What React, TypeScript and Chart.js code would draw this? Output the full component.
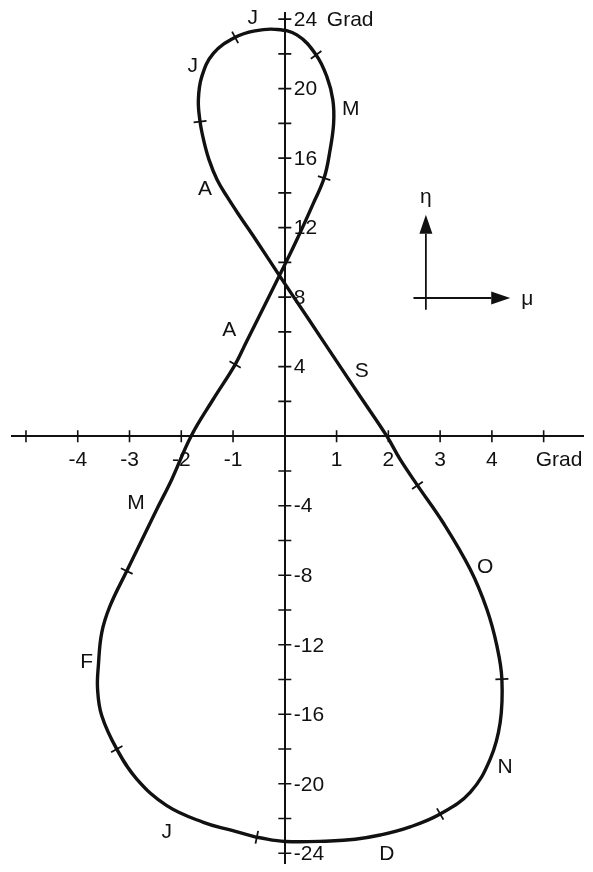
import React, { useEffect, useRef } from 'react';
import { Chart, registerables } from 'chart.js';

Chart.register(...registerables);

// Analemma: mu = east-west offset (Grad), eta = declination (Grad), traced from 1 January onward.
const analemmaMu = [
  -0.541, -1.057, -1.573, -2.28, -2.86, -3.246, -3.536, -3.617, -3.602, -3.536,
  -3.376, -3.053, -2.473, -2.184, -1.811, -1.386, -0.96, -0.748, -0.526, -0.104,
  0.232, 0.553, 0.759, 0.875, 0.943, 0.928, 0.812, 0.605, 0.232, -0.187,
  -0.574, -0.96, -1.38, -1.604, -1.67, -1.637, -1.569, -1.463, -1.308, -1.115,
  -0.902, -0.535, -0.104, 0.464, 0.941, 1.457, 1.971, 2.228, 2.562, 3.059,
  3.581, 3.903, 4.097, 4.193, 4.16, 3.967, 3.581, 3.001, 2.421, 1.842,
  1.358, 0.875, 0.006,
];
const analemmaEta = [
  -23.08, -22.66, -22.22, -21.26, -19.73, -18.01, -16.09, -14.56, -13.22, -11.3,
  -9.77, -7.76, -4.21, -2.49, 0, 2.11, 4.12, 5.39, 6.71, 9.24,
  11.3, 13.41, 14.85, 16.48, 18.01, 19.35, 20.69, 21.94, 23.09, 23.41,
  23.32, 22.95, 22.03, 20.69, 19.35, 18.1, 17.05, 15.9, 14.75, 13.78,
  12.8, 11.19, 9.24, 6.71, 4.58, 2.28, 0, -1.34, -2.83, -4.98,
  -7.66, -9.96, -12.07, -13.98, -16.47, -18.58, -20.49, -21.74, -22.48, -22.95,
  -23.19, -23.29, -23.32,
];
// Points of the trace that fall on the first day of a month (cross marks).
const monthStartIndex = [0, 5, 11, 16, 22, 27, 31, 35, 48, 53, 57];

// Month initials and where they are written (mu, eta).
const monthLetters = ['J', 'F', 'M', 'A', 'M', 'J', 'J', 'A', 'S', 'O', 'N', 'D'];
const monthLetterMu = [-2.28, -3.826, -2.873, -1.071, 1.275, -0.618, -1.778, -1.54, 1.488, 3.87, 4.257, 1.971];
const monthLetterEta = [-22.79, -12.99, -3.83, 6.09, 18.82, 24.05, 21.26, 14.22, 3.74, -7.56, -19.06, -24.04];

// Axis ticks and labels.
const xTickValues = [-5, -4, -3, -2, -1, 0, 1, 2, 3, 4, 5];
const xTickLabels = ['', '-4', '-3', '-2', '-1', '', '1', '2', '3', '4', 'Grad'];
const yTickValues = [-24, -22, -20, -18, -16, -14, -12, -10, -8, -6, -4, -2, 0, 2, 4, 6, 8, 10, 12, 14, 16, 18, 20, 22, 24];
const yTickLabels = ['-24', '', '-20', '', '-16', '', '-12', '', '-8', '', '-4', '', '', '', '4', '', '8', '', '12', '', '16', '', '20', '', '24'];
const yUnitLabel = 'Grad';

// Direction key: eta arrow upward, mu arrow to the right.
const keyOrigin = { mu: 2.725, eta: 7.95 };
const keyEtaRange = [7.28, 12.74];
const keyMuRange = [2.485, 4.354];
const keyEtaLabel = 'η';
const keyMuLabel = 'μ';

const X_MIN = -5.27;
const X_MAX = 5.76;
const Y_MIN = -24.6;
const Y_MAX = 24.35;

const INK = '#111111';
const FONT = '"Liberation Sans", Arial, Helvetica, sans-serif';

const decorPlugin = {
  id: 'analemmaDecor',
  afterDraw(chart: any) {
    const { ctx } = chart;
    const xs = chart.scales.x;
    const ys = chart.scales.y;
    const x0 = xs.getPixelForValue(0);
    const y0 = ys.getPixelForValue(0);

    ctx.save();
    // Cross ticks on both axes
    ctx.strokeStyle = INK;
    ctx.lineWidth = 1.6;
    ctx.beginPath();
    xTickValues.forEach((v) => {
      if (v === 0) return;
      const px = xs.getPixelForValue(v);
      ctx.moveTo(px, y0 - 6);
      ctx.lineTo(px, y0 + 6);
    });
    yTickValues.forEach((v) => {
      if (v === 0) return;
      const py = ys.getPixelForValue(v);
      ctx.moveTo(x0 - 6.5, py);
      ctx.lineTo(x0 + 6.5, py);
    });
    ctx.stroke();

    ctx.fillStyle = INK;
    ctx.font = `21px ${FONT}`;
    ctx.textBaseline = 'middle';

    // x labels under the axis
    xTickValues.forEach((v, i) => {
      const t = xTickLabels[i];
      if (!t) return;
      const px = xs.getPixelForValue(v);
      if (t === 'Grad') {
        ctx.textAlign = 'left';
        ctx.fillText(t, px - 8, y0 + 24);
      } else {
        ctx.textAlign = 'center';
        ctx.fillText(t, px, y0 + 24);
      }
    });

    // y labels to the right of the axis
    ctx.textAlign = 'left';
    yTickValues.forEach((v, i) => {
      const t = yTickLabels[i];
      if (!t) return;
      const py = ys.getPixelForValue(v) + 1;
      ctx.fillText(t, x0 + 9, py);
      if (v === yTickValues[yTickValues.length - 1]) {
        ctx.fillText(yUnitLabel, x0 + 42, py);
      }
    });

    // Month initials
    ctx.textAlign = 'center';
    monthLetters.forEach((m, i) => {
      ctx.fillText(m, xs.getPixelForValue(monthLetterMu[i]), ys.getPixelForValue(monthLetterEta[i]));
    });

    // Direction key
    const kx = xs.getPixelForValue(keyOrigin.mu);
    const ky = ys.getPixelForValue(keyOrigin.eta);
    const vBottom = ys.getPixelForValue(keyEtaRange[0]);
    const vTip = ys.getPixelForValue(keyEtaRange[1]);
    const hLeft = xs.getPixelForValue(keyMuRange[0]);
    const hTip = xs.getPixelForValue(keyMuRange[1]);
    const head = 19;
    const half = 6.5;
    ctx.lineWidth = 1.8;
    ctx.beginPath();
    ctx.moveTo(kx, vBottom);
    ctx.lineTo(kx, vTip + head);
    ctx.moveTo(hLeft, ky);
    ctx.lineTo(hTip - head, ky);
    ctx.stroke();
    ctx.beginPath();
    ctx.moveTo(kx, vTip);
    ctx.lineTo(kx - half, vTip + head);
    ctx.lineTo(kx + half, vTip + head);
    ctx.closePath();
    ctx.moveTo(hTip, ky);
    ctx.lineTo(hTip - head, ky - half);
    ctx.lineTo(hTip - head, ky + half);
    ctx.closePath();
    ctx.fill();
    ctx.font = `21px ${FONT}`;
    ctx.textAlign = 'center';
    ctx.fillText(keyEtaLabel, kx, vTip - 18);
    ctx.fillText(keyMuLabel, hTip + 17, ky + 1);

    ctx.restore();
  },
};

export default function App() {
  const canvasRef = useRef<HTMLCanvasElement | null>(null);

  useEffect(() => {
    if (!canvasRef.current) return;
    const points = analemmaMu.map((mu, i) => ({ x: mu, y: analemmaEta[i] }));
    points.push({ ...points[0] });
    const n = points.length - 1;
    const marks = new Set(monthStartIndex);

    const chart = new Chart(canvasRef.current, {
      type: 'scatter',
      data: {
        datasets: [
          {
            data: points,
            showLine: true,
            borderColor: INK,
            borderWidth: 3.4,
            tension: 0.4,
            fill: false,
            pointStyle: 'line',
            pointBorderColor: INK,
            pointBorderWidth: 1.8,
            pointRadius: (c: any) => (marks.has(c.dataIndex) && c.dataIndex < n ? 6.5 : 0),
            pointHoverRadius: 0,
            rotation: (c: any) => {
              const i = c.dataIndex;
              const a = points[(i - 1 + n) % n];
              const b = points[(i + 1) % n];
              const sx = c.chart.scales.x;
              const sy = c.chart.scales.y;
              if (!sx || !sy) return 0;
              const ang = Math.atan2(
                sy.getPixelForValue(b.y) - sy.getPixelForValue(a.y),
                sx.getPixelForValue(b.x) - sx.getPixelForValue(a.x),
              );
              return (ang * 180) / Math.PI + 90;
            },
          } as any,
        ],
      },
      options: {
        responsive: false,
        animation: false,
        events: [],
        layout: { padding: { left: 12, right: 10, top: 13, bottom: 7 } },
        plugins: { legend: { display: false }, tooltip: { enabled: false } },
        scales: {
          x: {
            type: 'linear',
            position: { y: 0 } as any,
            min: X_MIN,
            max: X_MAX,
            grid: { display: false },
            border: { display: true, color: INK, width: 2 },
            ticks: { display: false, stepSize: 1 },
          },
          y: {
            type: 'linear',
            position: { x: 0 } as any,
            min: Y_MIN,
            max: Y_MAX,
            grid: { display: false },
            border: { display: true, color: INK, width: 2 },
            ticks: { display: false, stepSize: 2 },
          },
        },
      },
      plugins: [decorPlugin],
    });
    return () => chart.destroy();
  }, []);

  return (
    <div style={{ position: 'fixed', left: 0, top: 0, width: 593, height: 872, background: '#ffffff' }}>
      <canvas ref={canvasRef} width={593} height={872} style={{ display: 'block' }} />
    </div>
  );
}
